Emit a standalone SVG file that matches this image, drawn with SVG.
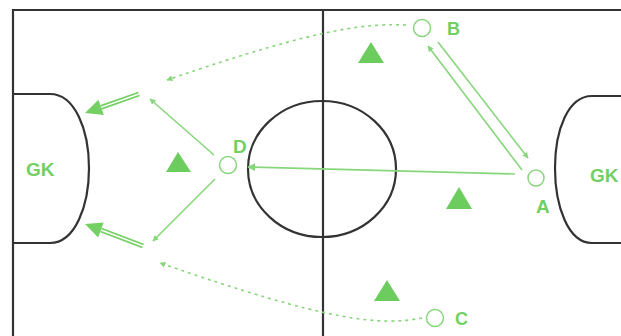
<svg xmlns="http://www.w3.org/2000/svg" width="621" height="336" viewBox="0 0 621 336">
<style>
.field{fill:none;stroke:#333;stroke-width:2.2}
.thin{fill:none;stroke:#88d67c;stroke-width:1.6}
.dot{fill:none;stroke:#88d67c;stroke-width:1.6;stroke-dasharray:3 4}
.dbl-o{fill:none;stroke:#74d063;stroke-width:5}
.dbl-i{fill:none;stroke:#fff;stroke-width:1.4}
.head{fill:#74d063}
.player{fill:#fff;stroke:#88d67c;stroke-width:1.5}
.tri{fill:#6ccd5e}
.lbl{font-family:"Liberation Sans",Arial,sans-serif;font-weight:bold;fill:#72cf62}
</style>
<defs>
<marker id="ah" viewBox="0 0 10 10" refX="9" refY="5" markerWidth="6" markerHeight="6" orient="auto" markerUnits="userSpaceOnUse">
<path d="M0,0 L10,5 L0,10 z" fill="#88d67c"/>
</marker>
<marker id="ahs" viewBox="0 0 10 10" refX="9" refY="5" markerWidth="8" markerHeight="8" orient="auto" markerUnits="userSpaceOnUse">
<path d="M0,0 L10,5 L0,10 z" fill="#88d67c"/>
</marker>
</defs>
<rect width="621" height="336" fill="#fff"/>
<g id="pitch">
<path class="field" d="M13,336 V10 H621"/>
<line class="field" x1="323" y1="10" x2="323" y2="336"/>
<ellipse class="field" cx="322" cy="169" rx="74" ry="68"/>
<path class="field" d="M13,94 H50 C75,94 89,130 89,168 C89,206 75,243 50,243 H13"/>
<path class="field" d="M621,96 H592 C568,96 555,130 555,168 C555,206 568,243 592,243 H621"/>
</g>
<g id="connectors">
<line class="thin" x1="515" y1="174" x2="248" y2="167" marker-end="url(#ahs)"/>
<line class="thin" x1="522" y1="170" x2="428" y2="46" marker-end="url(#ah)"/>
<line class="thin" x1="438" y1="42" x2="528" y2="158" marker-end="url(#ah)"/>
<line class="thin" x1="214" y1="155" x2="150" y2="99" marker-end="url(#ah)"/>
<line class="thin" x1="215" y1="179" x2="153" y2="241" marker-end="url(#ah)"/>
<path class="dot" d="M406,25 C370,24 330,24 167,80" marker-end="url(#ah)"/>
<path class="dot" d="M422,318 C380,326 330,322 160,263" marker-end="url(#ah)"/>
<line class="dbl-o" x1="139" y1="94" x2="101" y2="107.3"/>
<line class="dbl-i" x1="139" y1="94" x2="101" y2="107.3"/>
<polygon class="head" points="85,113 98.4,99.7 103.8,114.9"/>
<line class="dbl-o" x1="143" y1="246" x2="101" y2="230"/>
<line class="dbl-i" x1="143" y1="246" x2="101" y2="230"/>
<polygon class="head" points="85,224 98.1,237.5 103.7,222.5"/>
</g>
<g id="gk-left"><text class="lbl" x="26" y="176" font-size="19">GK</text></g>
<g id="gk-right"><text class="lbl" x="590" y="182" font-size="19">GK</text></g>
<g id="player-A"><circle class="player" cx="536" cy="178" r="8"/><text class="lbl" x="536" y="213" font-size="19">A</text></g>
<g id="player-B"><circle class="player" cx="422" cy="28" r="8.5"/><text class="lbl" x="447" y="35" font-size="18">B</text></g>
<g id="player-C"><circle class="player" cx="435" cy="318" r="8.5"/><text class="lbl" x="455" y="325" font-size="18">C</text></g>
<g id="player-D"><circle class="player" cx="228" cy="165" r="8.5"/><text class="lbl" x="233" y="153" font-size="19">D</text></g>
<g id="defenders">
<polygon class="tri" points="371,42 358,63 384,63"/>
<polygon class="tri" points="178,152 166,172 191,172"/>
<polygon class="tri" points="459,187 446,209 472,209"/>
<polygon class="tri" points="387,280 374,301 400,301"/>
</g>
</svg>
